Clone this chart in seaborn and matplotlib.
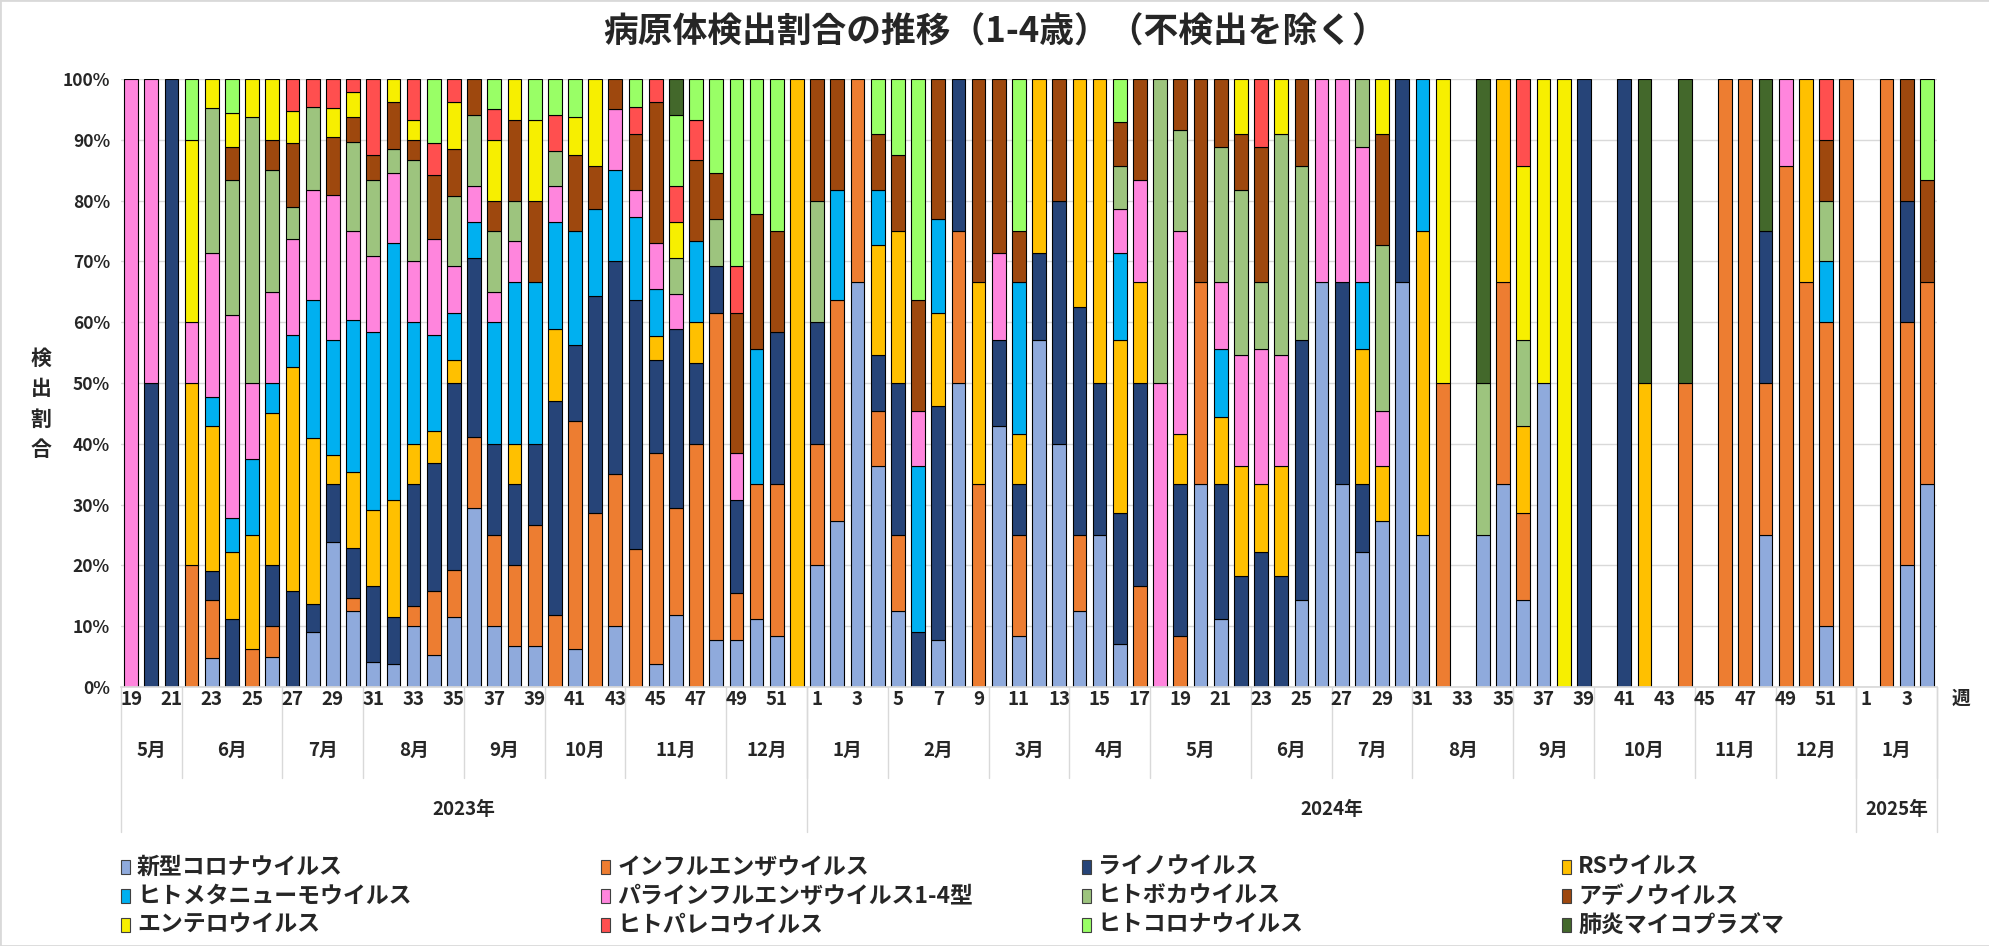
import numpy as np
import pandas as pd
import matplotlib
matplotlib.use("Agg")
import matplotlib.pyplot as plt
from matplotlib.patches import Rectangle
import seaborn as sns

pathogens = ["新型コロナウイルス", "インフルエンザウイルス", "ライノウイルス", "RSウイルス",
             "ヒトメタニューモウイルス", "パラインフルエンザウイルス1-4型", "ヒトボカウイルス", "アデノウイルス",
             "エンテロウイルス", "ヒトパレコウイルス", "ヒトコロナウイルス", "肺炎マイコプラズマ"]
colors = ["#8FAADC", "#ED7D31", "#264478", "#FFC000",
          "#00B0F0", "#FF85DD", "#9DC47E", "#9E480E",
          "#F7EF00", "#FF4F4F", "#99FF66", "#43682B"]

weeks = list(range(19, 53)) + list(range(1, 53)) + list(range(1, 5))
months = [("5月", 3), ("6月", 5), ("7月", 4), ("8月", 5), ("9月", 4), ("10月", 4), ("11月", 5), ("12月", 4),
          ("1月", 4), ("2月", 5), ("3月", 4), ("4月", 4), ("5月", 5), ("6月", 4), ("7月", 4), ("8月", 5),
          ("9月", 4), ("10月", 5), ("11月", 4), ("12月", 4),
          ("1月", 4)]
years = [("2023年", 34), ("2024年", 52), ("2025年", 4)]

# 検出数 (2023 19-52週 / 2024 1-52週 / 2025 1-4週)
corona = [0,0,0,0,1,0,0,1,0,2, 5,6,1,1,3,1,3,5,2,1, 1,0,1,0,2,0,1,2,0,1, 1,1,1,0,
          1,3,2,4,1,0,1,2,0,3, 1,4,2,1,1,1,0,0,0,1, 1,0,0,0,1,2,1,2,3,2, 1,0,0,1,1,1,1,0,0,0, 0,0,0,0,0,0,0,1,0,0, 1,0,
          0,0,1,2]
flu = [0,0,0,2,2,0,1,1,0,0, 0,1,0,0,1,2,2,2,3,2, 3,2,6,4,5,5,9,3,6,7, 1,2,3,0,
       1,4,1,1,1,0,0,1,1,0, 2,0,0,1,0,0,1,0,1,1, 0,0,0,0,0,0,0,0,0,0, 0,1,0,0,1,1,0,0,0,0, 0,0,0,1,0,1,1,1,6,2, 5,1,
       0,1,2,2]
rhino = [0,1,1,0,1,2,0,2,3,1, 2,4,3,2,6,4,8,5,3,2, 2,6,2,5,7,9,4,5,2,1, 2,0,3,0,
         1,0,0,1,2,1,5,1,0,1, 1,1,2,3,1,3,2,0,3,0, 2,2,2,2,3,0,1,1,0,1, 0,0,0,0,0,0,0,0,1,0, 1,0,0,0,0,0,0,1,0,0, 0,0,
         0,0,1,0]
rsv = [0,0,0,3,5,2,3,5,7,6, 1,6,3,5,2,1,1,0,0,1, 0,2,0,0,0,0,1,0,1,0, 0,0,0,1,
       0,0,0,2,2,0,2,0,1,0, 1,2,0,3,2,4,1,0,1,0, 1,2,1,2,0,0,0,2,1,0, 2,0,0,0,1,1,0,0,0,0, 0,1,0,0,0,0,0,0,0,1, 0,0,
       0,0,0,0]
hmpv = [0,0,0,0,1,1,2,1,1,5, 4,12,7,11,6,3,2,1,4,4, 4,3,3,2,3,3,2,0,2,0, 0,2,0,0,
        0,2,0,1,0,3,2,0,0,0, 3,0,0,0,0,2,0,0,0,0, 1,0,0,0,0,0,0,1,0,0, 1,0,0,0,0,0,0,0,0,0, 0,0,0,0,0,0,0,0,0,0, 1,0,
        0,0,0,0]
para = [1,1,0,1,5,6,2,3,3,4, 5,7,3,3,3,3,2,1,1,1, 0,1,0,0,2,1,2,1,0,0, 1,0,0,0,
        0,0,0,0,0,1,0,0,0,1, 0,0,0,0,0,1,1,1,4,0, 1,2,2,2,0,1,1,2,1,0, 0,0,0,0,0,0,0,0,0,0, 0,0,0,0,0,0,0,0,1,0, 0,0,
        0,0,0,0]
boca = [0,0,0,0,5,4,7,4,1,3, 0,7,3,1,5,0,3,2,2,1, 0,1,0,0,0,0,0,1,0,1, 0,0,0,0,
        1,0,0,0,0,0,0,0,0,0, 0,0,0,0,0,1,0,1,2,0, 2,3,1,4,2,0,0,1,3,0, 0,0,0,1,0,1,0,0,0,0, 0,0,0,0,0,0,0,0,0,0, 1,0,
        0,0,0,0]
adeno = [0,0,0,0,0,1,0,1,2,0, 2,2,1,2,1,2,2,1,1,2, 2,0,2,1,1,2,6,0,2,1, 3,2,2,0,
         1,2,0,1,1,2,3,0,1,2, 1,0,1,0,0,1,1,0,1,1, 1,1,2,0,1,0,0,0,2,0, 0,0,0,0,0,0,0,0,0,0, 0,0,0,0,0,0,0,0,0,0, 1,0,
         0,0,1,1]
entero = [0,0,0,3,1,1,1,2,1,0, 1,2,0,1,1,0,2,0,2,1, 2,0,1,2,0,0,0,1,0,0, 0,0,0,0,
          0,0,0,0,0,0,0,0,0,0, 0,0,0,0,0,0,0,0,0,0, 0,1,0,1,0,0,0,0,1,0, 0,1,0,0,0,2,1,1,0,0, 0,0,0,0,0,0,0,0,0,0, 0,0,
          0,0,0,0]
pareco = [0,0,0,0,0,0,0,0,1,1, 1,1,3,0,2,1,1,0,1,0, 0,1,0,0,0,1,1,1,1,0, 1,0,0,0,
          0,0,0,0,0,0,0,0,0,0, 0,0,0,0,0,0,0,0,0,0, 0,0,1,0,0,0,0,0,0,0, 0,0,0,0,0,1,0,0,0,0, 0,0,0,0,0,0,0,0,0,0, 1,0,
          0,0,0,0]
hcov = [0,0,0,1,0,1,0,0,0,0, 0,0,0,0,0,2,0,0,1,0, 1,1,1,0,0,1,0,2,1,2, 4,2,3,0,
        0,0,0,1,1,4,0,0,0,0, 3,0,0,0,0,1,0,0,0,0, 0,0,0,0,0,0,0,0,0,0, 0,0,0,0,0,0,0,0,0,0, 0,0,0,0,0,0,0,0,0,0, 0,0,
        0,0,0,1]
myco = [0,0,0,0,0,0,0,0,0,0, 0,0,0,0,0,0,0,0,0,0, 0,0,0,0,0,0,0,1,0,0, 0,0,0,0,
        0,0,0,0,0,0,0,0,0,0, 0,0,0,0,0,0,0,0,0,0, 0,0,0,0,0,0,0,0,0,0, 0,0,0,2,0,0,0,0,0,0, 0,1,0,1,0,0,0,1,0,0, 0,0,
        0,0,0,0]

series = [corona, flu, rhino, rsv, hmpv, para, boca, adeno, entero, pareco, hcov, myco]
n = len(weeks)
counts = pd.DataFrame(dict(zip(pathogens, series)))
total = counts.sum(axis=1)
share = counts.div(total.where(total > 0), axis=0).fillna(0) * 100
base = share.cumsum(axis=1) - share

sns.set_theme(style="white")
plt.rcParams["font.family"] = ["Noto Sans CJK JP", "DejaVu Sans"]

W, H = 1990, 946
fig = plt.figure(figsize=(W / 100, H / 100), dpi=100)
ax = fig.add_axes([121 / W, 1 - 687 / H, (1937 - 121) / W, (687 - 79) / H])

for name, col in zip(pathogens, colors):
    sub = pd.DataFrame({"pos": np.arange(n), "pct": share[name], "bottom": base[name]})
    sub = sub[sub["pct"] > 0]
    sns.barplot(data=sub, x="pos", y="pct", order=list(range(n)), color=col, saturation=1,
                width=0.68, errorbar=None, bottom=sub["bottom"].to_numpy(),
                edgecolor="black", linewidth=0.8, ax=ax)

ax.set_xlim(-0.5, n - 0.5)
ax.set_ylim(0, 100)
ax.set_yticks(range(0, 101, 10))
ax.set_yticklabels([f"{v}%" for v in range(0, 101, 10)], fontsize=12.5, fontweight="bold")
ax.tick_params(axis="y", length=0, pad=8)
ax.set_xticks([])
ax.set_xlabel("")
ax.set_ylabel("")
ax.yaxis.grid(True, color="#D9D9D9", linewidth=1)
ax.set_axisbelow(True)
for s in ["top", "right", "left"]:
    ax.spines[s].set_visible(False)
ax.spines["bottom"].set_color("#D9D9D9")

# 週・月・年の軸ラベル
tr = ax.get_xaxis_transform()
for i in range(0, n, 2):
    ax.text(i, -0.021, str(weeks[i]), transform=tr, ha="center", va="center",
            fontsize=13.5, fontweight="bold")

grid_c = "#D9D9D9"
start = -0.5
ax.plot([start, start], [0, -0.238], transform=tr, color=grid_c, lw=1, clip_on=False)
for label, k in months:
    ax.text(start + k / 2, -0.104, label, transform=tr, ha="center", va="center",
            fontsize=13.5, fontweight="bold")
    start += k
    ax.plot([start, start], [0, -0.150], transform=tr, color=grid_c, lw=1, clip_on=False)
start = -0.5
for label, k in years:
    ax.text(start + k / 2, -0.202, label, transform=tr, ha="center", va="center",
            fontsize=13.5, fontweight="bold")
    start += k
    ax.plot([start, start], [0, -0.238], transform=tr, color=grid_c, lw=1, clip_on=False)

fig.text(1961 / W, 1 - 698 / H, "週", ha="center", va="center", fontsize=13.5, fontweight="bold")
fig.text(41 / W, 1 - 404 / H, "検\n出\n割\n合", ha="center", va="center", fontsize=15,
         fontweight="bold", linespacing=1.55)
fig.text(995 / W, 1 - 32 / H, "病原体検出割合の推移（1-4歳）（不検出を除く）", ha="center", va="center",
         fontsize=25, fontweight="bold")

# 凡例 (4列 x 3行)
for i, (name, col) in enumerate(zip(pathogens, colors)):
    r, c = divmod(i, 4)
    x0 = 121 + c * 480.4
    y0 = 867 + r * 29.2
    fig.patches.append(Rectangle((x0 / W, 1 - (y0 + 7) / H), 9 / W, 14 / H, transform=fig.transFigure,
                                 facecolor=col, edgecolor="#404040", linewidth=0.8))
    fig.text((x0 + 16) / W, 1 - y0 / H, name, ha="left", va="center", fontsize=16.5, fontweight="bold")

fig.patches.append(Rectangle((0, 0), 1, 1, transform=fig.transFigure, fill=False,
                             edgecolor="#D9D9D9", linewidth=2))

fig.savefig("out.png", dpi=100)
